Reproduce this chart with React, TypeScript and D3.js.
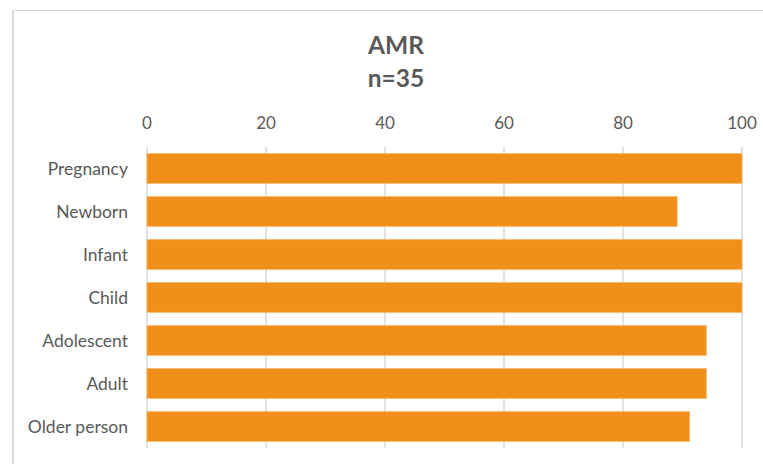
import React from "react";
import * as d3 from "d3";

const categories = ["Pregnancy", "Newborn", "Infant", "Child", "Adolescent", "Adult", "Older person"];
const values = [100, 89.1, 100, 100, 94.0, 94.0, 91.2];
const tickValues = [0, 20, 40, 60, 80, 100];
const titleLines = ["AMR", "n=35"];

const W = 763;
const H = 464;
const FONT = "Lato, 'Open Sans', sans-serif";
const TEXT = "#595959";
const GRID = "#d9d9d9";
const BAR = "#F0901A";

export default function App() {
  const x = d3.scaleLinear().domain([0, 100]).range([147, 742]);
  const y = d3.scaleBand<string>().domain(categories).range([147, 448]).paddingInner(0.31).paddingOuter(0.155);

  return (
    <svg width={W} height={H} style={{ position: "absolute", left: 0, top: 0, background: "#fff" }}>
      {/* chart frame */}
      <line x1={13} x2={W} y1={10.5} y2={10.5} stroke={GRID} strokeWidth={1} />
      <line x1={13} x2={13} y1={10} y2={H} stroke={GRID} strokeWidth={2} />

      {/* title */}
      {titleLines.map((t, i) => (
        <text key={t} x={396} y={53.5 + i * 33.5} textAnchor="middle" fontFamily={FONT} fontWeight="bold" fontSize={24.5} fill={TEXT}>
          {t}
        </text>
      ))}

      {/* gridlines and top axis labels */}
      {tickValues.map((v) => (
        <g key={v}>
          <line x1={x(v)} x2={x(v)} y1={147} y2={448} stroke={GRID} strokeWidth={1.5} />
          <text x={x(v)} y={129} textAnchor="middle" fontFamily={FONT} fontSize={17} fill={TEXT}>
            {v}
          </text>
        </g>
      ))}

      {/* bars */}
      {categories.map((c, i) => (
        <rect key={c} x={x(0)} y={y(c)} width={x(values[i]) - x(0)} height={y.bandwidth()} fill={BAR} stroke="#f4b35f" strokeWidth={0.8} />
      ))}

      {/* category labels */}
      {categories.map((c) => (
        <text key={c} x={128} y={(y(c) as number) + y.bandwidth() / 2 + 6} textAnchor="end" fontFamily={FONT} fontSize={17.5} fill={TEXT}>
          {c}
        </text>
      ))}
    </svg>
  );
}
